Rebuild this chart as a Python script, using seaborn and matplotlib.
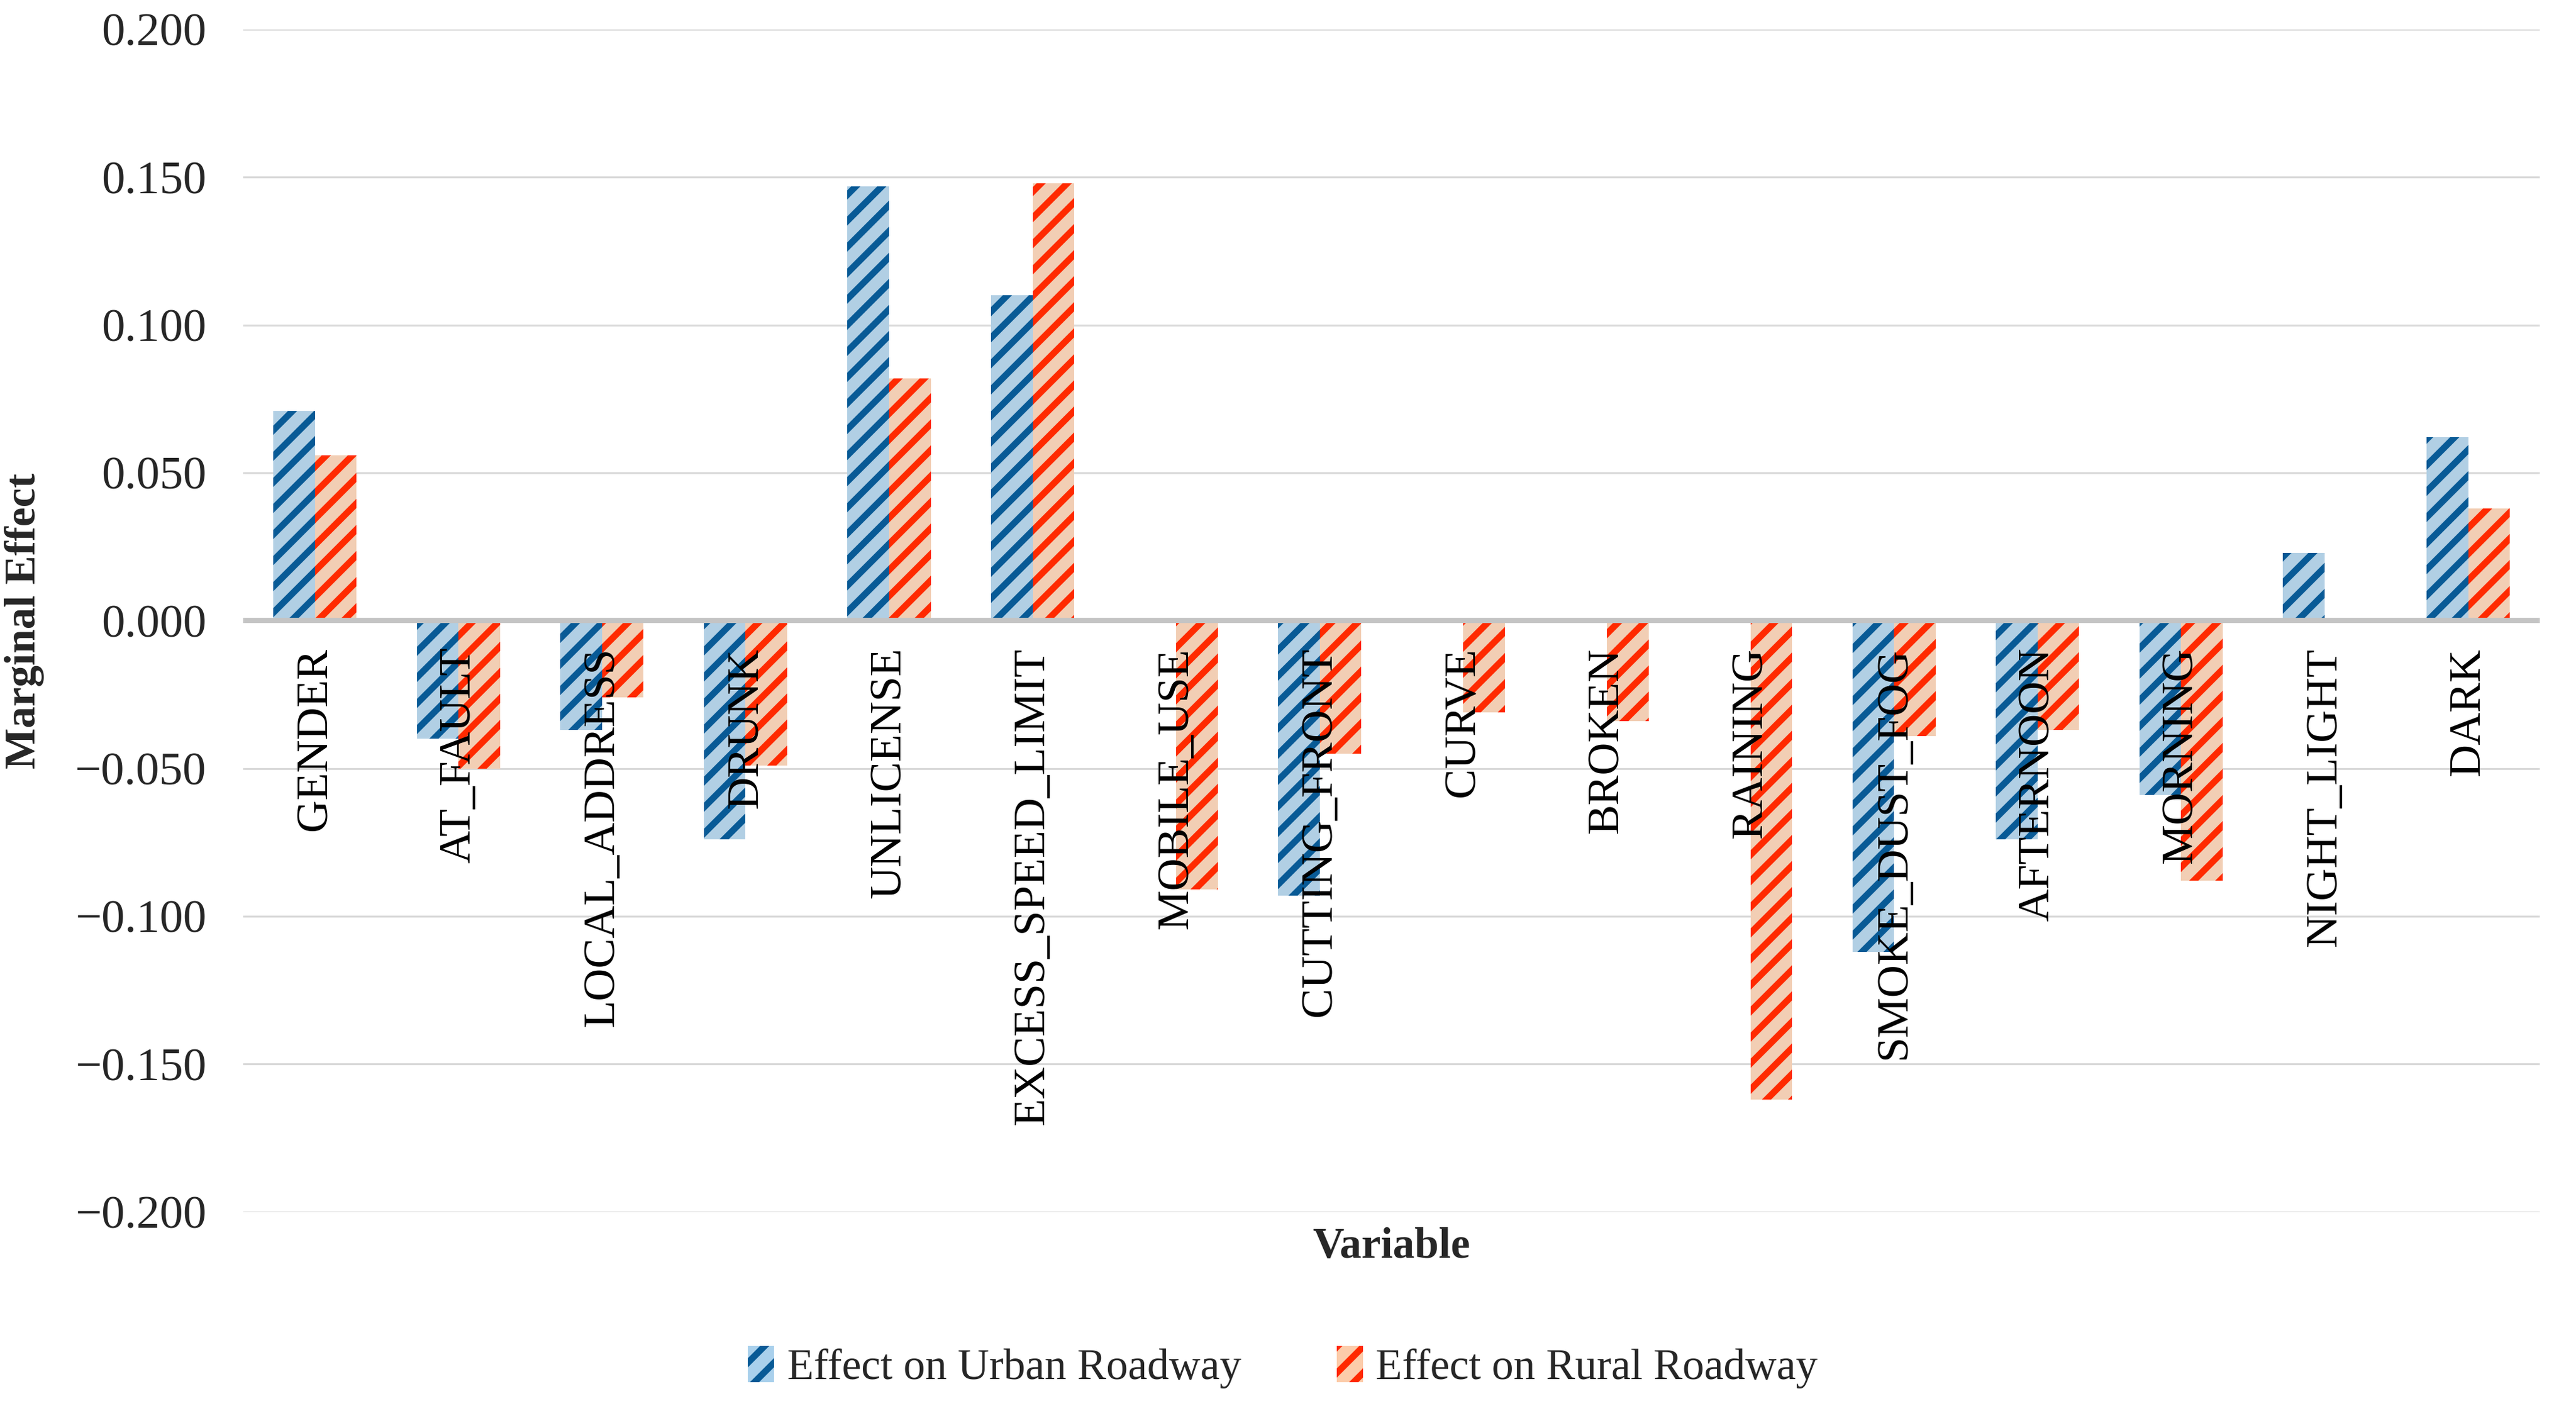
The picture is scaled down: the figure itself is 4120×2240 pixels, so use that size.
import numpy as np
import pandas as pd
import matplotlib
matplotlib.use("Agg")
import matplotlib.pyplot as plt
from matplotlib.patches import Patch
import seaborn as sns

# ============================================
# DADOS
# ============================================

variaveis = ["GENDER", "AT_FAULT", "LOCAL_ADDRESS", "DRUNK", "UNLICENSE",
             "EXCESS_SPEED_LIMIT", "MOBILE_USE", "CUTTING_FRONT", "CURVE",
             "BROKEN", "RAINING", "SMOKE_DUST_FOG", "AFTERNOON", "MORNING",
             "NIGHT_LIGHT", "DARK"]

efeito_urbano = [0.071, -0.040, -0.037, -0.074, 0.147, 0.110, 0.0, -0.093,
                 0.0, 0.0, 0.0, -0.112, -0.074, -0.059, 0.023, 0.062]

efeito_rural = [0.056, -0.050, -0.026, -0.049, 0.082, 0.148, -0.091, -0.045,
                -0.031, -0.034, -0.162, -0.039, -0.037, -0.088, 0.0, 0.038]

series = ["Effect on Urban Roadway", "Effect on Rural Roadway"]
y_ticks = [-0.2, -0.15, -0.1, -0.05, 0.0, 0.05, 0.1, 0.15, 0.2]

# cores (fundo, listras)
fundo = {series[0]: "#A9D0EC", series[1]: "#FCCCAA"}
listra = {series[0]: "#085A96", series[1]: "#FF2A00"}

df = pd.DataFrame({
    "variavel": variaveis * 2,
    "efeito": efeito_urbano + efeito_rural,
    "serie": [series[0]] * len(variaveis) + [series[1]] * len(variaveis),
})

# ============================================
# ESTILO
# ============================================

sns.set_theme(style="white")
plt.rcParams["font.family"] = ["Liberation Serif", "DejaVu Serif"]
plt.rcParams["hatch.linewidth"] = 3.0

fig = plt.figure(figsize=(16.48, 8.96), dpi=250)
ax = fig.add_axes([0.0944, 0.135, 0.8916, 0.844])

sns.barplot(data=df, x="variavel", y="efeito", hue="serie",
            palette=fundo, width=0.58, ax=ax, legend=False, zorder=2)

for cont, s in zip(ax.containers, series):
    for barra in cont:
        barra.set_hatch("//")
        barra.set_edgecolor(listra[s])
        barra.set_linewidth(0)

# ============================================
# EIXOS
# ============================================

ax.set_ylim(-0.2, 0.2)
ax.set_xlim(-0.5, len(variaveis) - 0.5)
ax.set_yticks(y_ticks)
ax.set_yticklabels([f"{v:.3f}".replace("-", "\u2212") for v in y_ticks])
ax.tick_params(axis="y", length=0, pad=17, labelsize=21.5)
ax.tick_params(axis="x", length=0)
ax.set_xticklabels([])

ax.grid(axis="y", color="#D9D9D9", linewidth=0.9, zorder=0)
ax.grid(axis="x", visible=False)
ax.axhline(0, color="#C4C4C4", linewidth=2.4, zorder=3)
for sp in ax.spines.values():
    sp.set_visible(False)

for i, nome in enumerate(variaveis):
    ax.text(i, -0.009, nome, rotation=90, ha="center", va="top",
            fontsize=20.8, color="black", zorder=4)

ax.set_ylabel("Marginal Effect", fontsize=20, fontweight="bold", va="center")
ax.yaxis.set_label_coords(-0.0953, 0.5)
ax.set_xlabel("Variable", fontsize=20, fontweight="bold")
ax.xaxis.set_label_coords(0.5, -0.0296)
ax.xaxis.label.set_va("center")

handles = [Patch(facecolor=fundo[s], edgecolor=listra[s], hatch="//", linewidth=0)
           for s in series]
fig.legend(handles, series, loc="center", bbox_to_anchor=(0.498, 0.024),
           ncol=2, frameon=False, fontsize=20, handlelength=0.6,
           handleheight=0.9, handletextpad=0.3, columnspacing=2.2)

fig.savefig("out.png", dpi=250, facecolor="white")
